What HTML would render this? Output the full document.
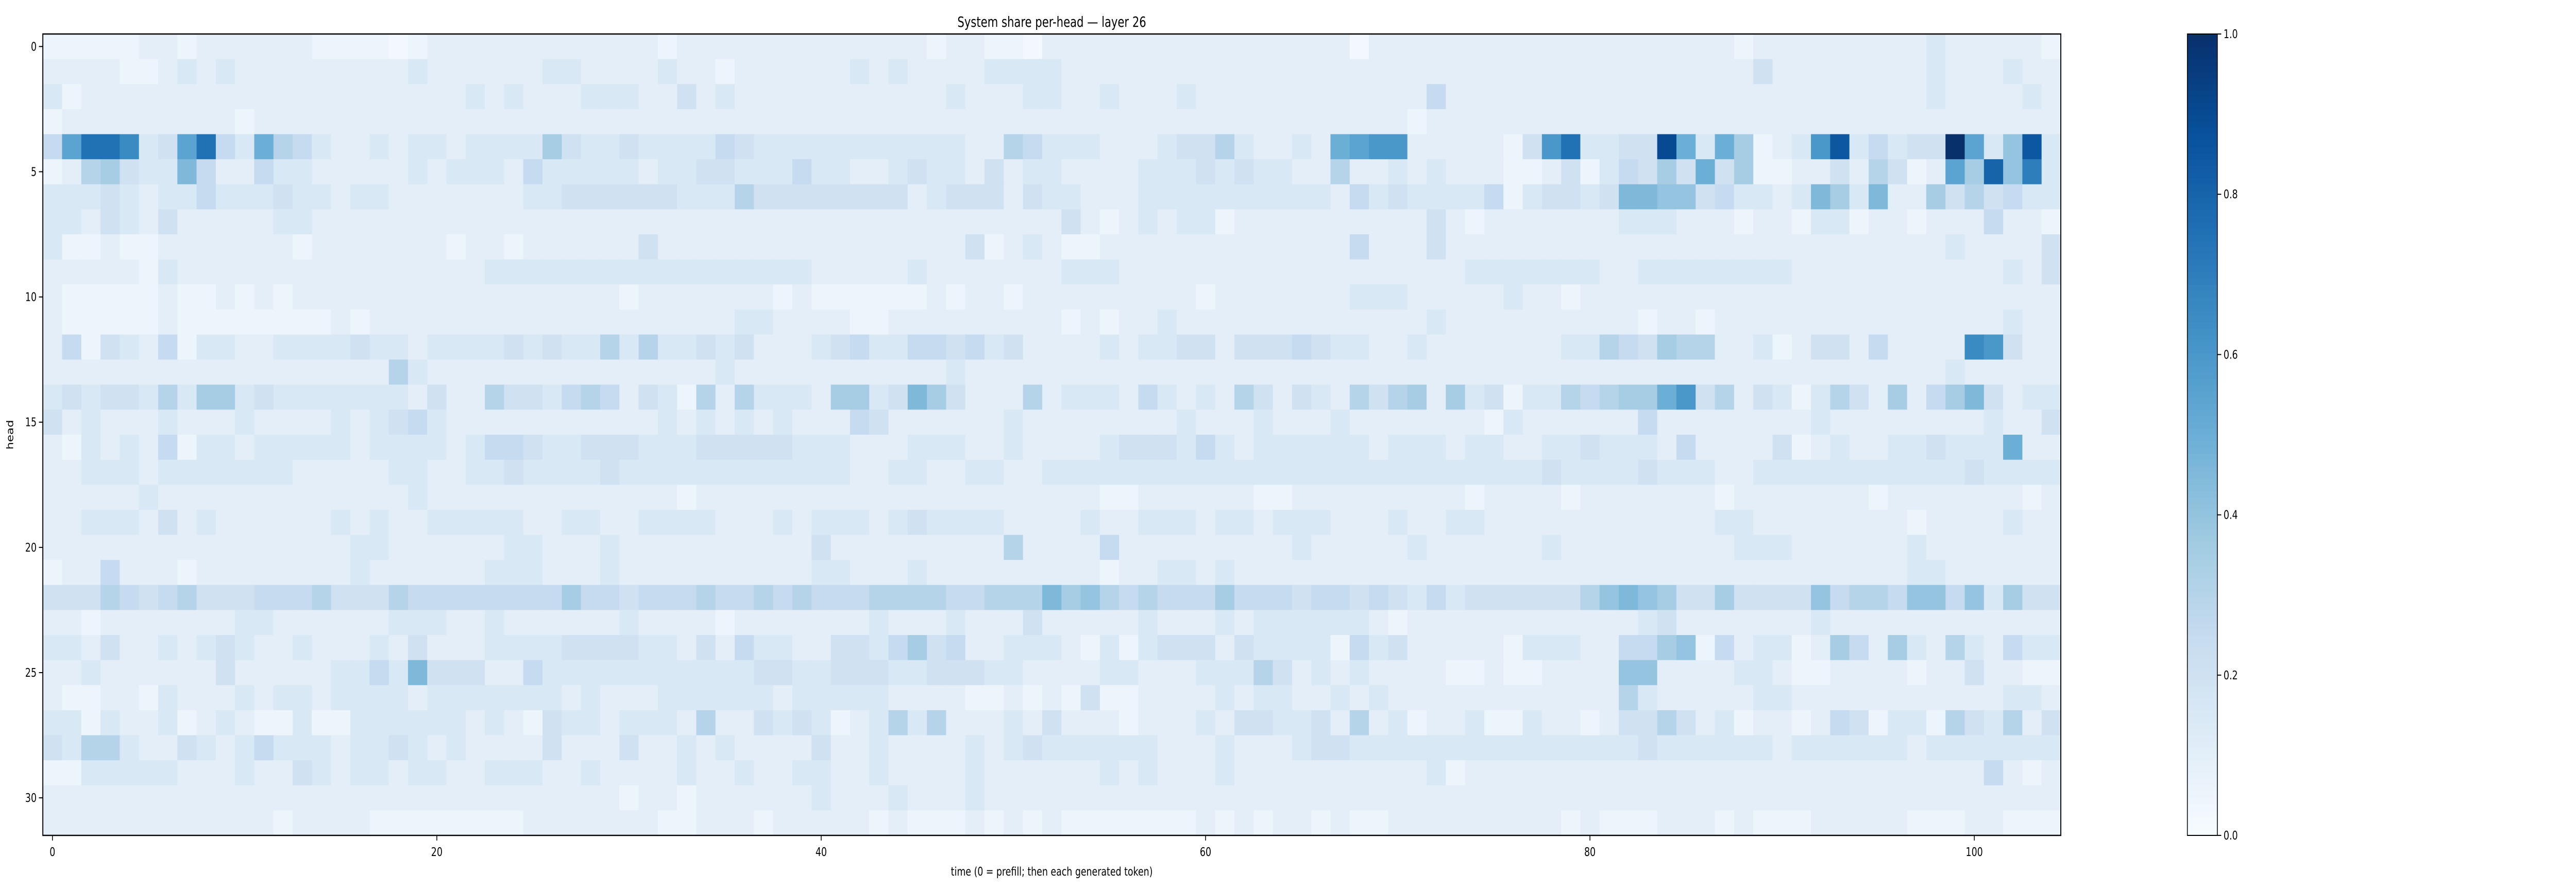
<!DOCTYPE html>
<html><head><meta charset="utf-8"><meta name="viewport" content="width=6615, initial-scale=1"><title>System share per-head — layer 26</title>
<style>html,body{margin:0;padding:0;background:#fff;overflow:hidden;width:100%;height:100%;}svg{position:fixed;left:0;top:0;width:100vw;height:100vh;display:block;font-family:"DejaVu Sans","Liberation Sans",sans-serif;}</style>
</head><body>
<svg id="chart" viewBox="0 0 6615 1728" preserveAspectRatio="none" xmlns="http://www.w3.org/2000/svg">
<rect x="0" y="0" width="6615" height="1728" fill="#fff"/>
<text x="2701" y="52" font-size="28" text-anchor="middle" fill="#000">System share per-head — layer 26</text>
<g id="cells"></g>
<g id="axes"></g>
<g id="cbar"></g>
<text x="2701" y="1700" font-size="23" text-anchor="middle" fill="#000">time (0 = prefill; then each generated token)</text>
<text x="0" y="0" font-size="23" text-anchor="middle" fill="#000" transform="translate(34,844) rotate(-90)">head</text>
</svg>
<script>
const xTicks = [0, 20, 40, 60, 80, 100];
const yTicks = [0, 5, 10, 15, 20, 25, 30];
const cbarTicks = [0.0, 0.2, 0.4, 0.6, 0.8, 1.0];
const cbarTickLabels = ["0.0", "0.2", "0.4", "0.6", "0.8", "1.0"];
const numTimes = 105;
const numHeads = 32;
// system share per head (percent), one array per head row, 105 time steps
const head00 = [5,5,5,5,5,10,10,5,10,10, 10,10,10,10,5,5,5,5,2,5, 10,10,10,10,10,10,10,10,10,10, 10,10,5,10,10,10,10,10,10,10, 10,10,10,10,10,10,5,10,10,5, 5,2,10, 10,10,10,10,10,10,10,10,10,10, 10,10,10,10,10,2,10,10,10,10, 10,10,10,10,10,10,10,10,10,10, 10,10,10,10,10,5,10,10,10,10, 10,10,10,10,10,15,10,10,10,10,10,5];
const head01 = [10,10,10,10,5,5,10,15,10,15, 10,10,10,10,10,10,10,10,10,15, 10,10,10,10,10,10,15,15,10,10, 10,10,15,10,10,5,10,10,10,10, 10,10,15,10,15,10,10,10,10,15, 15,15,15, 10,10,10,10,10,10,10,10,10,10, 10,10,10,10,10,10,10,10,10,10, 10,10,10,10,10,10,10,10,10,10, 10,10,10,10,10,10,20,10,10,10, 10,10,10,10,10,15,10,10,10,15,10,10];
const head02 = [15,5,10,10,10,10,10,10,10,10, 10,10,10,10,10,10,10,10,10,10, 10,10,15,10,15,10,10,10,15,15, 15,10,10,20,10,15,10,10,10,10, 10,10,10,10,10,10,10,15,10,10, 10,15,15, 10,10,15,10,10,10,15,10,10,10, 10,10,10,10,10,10,10,10,10,25, 10,10,10,10,10,10,10,10,10,10, 10,10,10,10,10,10,10,10,10,10, 10,10,10,10,10,15,10,10,10,10,15,10];
const head03 = [5,10,10,10,10,10,10,10,10,10, 5,10,10,10,10,10,10,10,10,10, 10,10,10,10,10,10,10,10,10,10, 10,10,10,10,10,10,10,10,10,10, 10,10,10,10,10,10,10,10,10,10, 10,10,10, 10,10,10,10,10,10,10,10,10,10, 10,10,10,10,10,10,10,10,5,10, 10,10,10,10,10,10,10,10,10,10, 10,10,10,10,10,10,10,10,10,10, 10,10,10,10,10,10,10,10,10,10,10,10];
const head04 = [25,55,75,75,65,15,20,55,75,25, 15,50,30,25,15,10,10,15,10,15, 15,10,15,15,15,15,35,20,15,15, 20,15,15,15,15,25,20,15,15,15, 15,15,15,15,15,15,15,15,10,10, 30,25,15, 15,15,10,10,10,15,20,20,30,15, 10,10,15,10,50,55,60,60,10,10, 10,10,10,5,20,60,75,15,15,20, 20,90,50,15,50,35,5,10,15,60, 85,15,25,15,20,20,100,55,15,40,85,15];
const head05 = [5,10,30,35,20,15,15,45,25,10, 10,25,15,15,10,10,10,10,10,15, 10,15,15,15,10,25,15,15,15,15, 15,10,15,15,20,20,15,15,15,25, 15,15,10,10,15,20,15,15,10,20, 10,15,15, 10,10,10,10,15,15,15,20,15,20, 15,15,10,10,30,10,10,15,10,15, 10,10,10,5,5,10,20,5,15,25, 20,35,20,50,20,35,5,5,10,10, 20,10,30,20,5,10,55,35,80,40,70,15];
const head06 = [15,15,15,20,15,10,15,15,25,15, 15,15,20,15,15,10,15,15,10,10, 10,10,10,10,10,15,15,20,20,20, 20,20,20,15,15,15,30,20,20,20, 20,20,20,20,20,10,15,20,20,20, 10,20,15, 15,10,10,10,15,15,15,15,15,15, 15,15,15,15,10,25,15,20,15,15, 15,15,25,5,15,20,20,15,20,45, 45,40,40,20,25,15,15,10,15,45, 35,15,45,10,10,35,20,30,20,25,15,15];
const head07 = [15,15,10,20,15,10,20,10,10,10, 10,10,15,15,10,10,10,10,10,10, 10,10,10,10,10,10,10,10,10,10, 10,10,10,10,10,10,10,10,10,10, 10,10,10,10,10,10,10,10,10,10, 10,10,10, 20,10,5,10,15,10,15,15,5,10, 10,10,10,10,10,10,10,10,10,20, 10,5,10,10,10,10,10,10,10,15, 15,15,10,10,10,5,10,10,5,15, 15,5,10,10,5,10,10,10,25,10,10,5];
const head08 = [15,5,5,10,5,5,10,10,10,10, 10,10,10,5,10,10,10,10,10,10, 10,5,10,10,5,10,10,10,10,10, 10,20,10,10,10,10,10,10,10,10, 10,10,10,10,10,10,10,10,20,5, 10,15,10, 5,5,10,10,10,10,10,10,10,10, 10,10,10,10,10,25,10,10,10,20, 10,10,10,10,10,10,10,10,10,10, 10,10,10,10,10,10,10,10,10,10, 10,10,10,10,10,10,15,10,10,10,10,20];
const head09 = [10,10,10,10,10,5,15,10,10,10, 10,10,10,10,10,10,10,10,10,10, 10,10,10,15,15,15,15,15,15,15, 15,15,15,15,15,15,15,15,15,15, 10,10,10,10,10,15,10,10,10,10, 10,10,10, 15,15,15,10,10,10,10,10,10,10, 10,10,10,10,10,10,10,10,10,10, 10,15,15,15,15,15,15,15,10,10, 15,15,15,15,15,15,15,15,10,10, 10,10,10,10,10,10,10,10,10,15,10,20];
const head10 = [10,5,5,5,5,5,10,5,5,10, 5,10,5,10,10,10,10,10,10,10, 10,10,10,10,10,10,10,10,10,10, 5,10,10,10,10,10,10,10,5,10, 5,5,5,5,5,5,10,5,10,10, 5,10,10, 10,10,10,10,10,10,10,5,10,10, 10,10,10,10,10,15,15,15,10,10, 10,10,10,15,10,10,5,10,10,10, 10,10,10,10,10,10,10,10,10,10, 10,10,10,10,10,10,10,10,10,10,10,10];
const head11 = [10,5,5,5,5,5,10,5,5,5, 5,5,5,5,5,10,5,10,10,10, 10,10,10,10,10,10,10,10,10,10, 10,10,10,10,10,10,15,15,10,10, 10,10,5,5,10,10,10,10,10,10, 10,10,10, 5,10,5,10,10,15,10,10,10,10, 10,10,10,10,10,10,10,10,10,15, 10,10,10,10,10,10,10,10,10,10, 5,10,10,5,10,10,10,10,10,10, 10,10,10,10,10,10,10,10,10,15,10,10];
const head12 = [10,25,5,20,15,10,25,5,15,15, 10,10,15,15,15,15,20,15,15,10, 15,15,15,15,20,15,20,15,15,30, 15,30,15,15,20,15,20,10,10,10, 15,20,25,15,15,25,25,20,25,15, 20,10,10, 10,10,15,10,15,15,20,20,10,20, 20,20,25,20,15,15,10,10,15,10, 10,10,10,10,10,10,15,15,30,25, 20,35,30,30,10,10,15,5,10,20, 20,10,25,10,10,10,10,65,60,20,10,10];
const head13 = [10,10,10,10,10,10,10,10,10,10, 10,10,10,10,10,10,10,10,30,15, 10,10,10,10,10,10,10,10,10,10, 10,10,10,10,10,15,10,10,10,10, 10,10,10,10,10,10,10,15,10,10, 10,10,10, 10,10,10,10,10,10,10,10,10,10, 10,10,10,10,10,10,10,10,10,10, 10,10,10,10,10,10,10,10,10,10, 10,10,10,10,10,10,10,10,10,10, 10,10,10,10,10,10,15,10,10,10,10,10];
const head14 = [15,20,15,20,20,15,30,15,35,35, 15,20,15,15,15,15,15,15,15,10, 20,10,10,30,20,20,15,25,30,25, 10,20,15,5,30,10,30,15,15,15, 10,35,35,15,20,45,35,20,10,10, 10,30,10, 15,15,15,10,25,15,10,15,10,30, 20,10,20,15,10,30,20,30,35,10, 35,15,20,5,15,15,30,25,30,35, 35,50,60,20,30,10,20,15,5,15, 30,20,10,35,10,25,35,45,20,10,15,15];
const head15 = [20,10,15,10,10,10,15,10,10,10, 15,10,10,10,10,15,10,15,20,25, 15,10,10,10,10,10,10,10,10,10, 10,10,15,10,15,10,15,10,15,10, 10,10,25,20,10,10,10,10,10,10, 15,10,10, 10,10,10,10,10,10,15,10,10,10, 15,10,10,10,15,10,10,10,10,10, 10,10,5,15,10,10,10,10,10,10, 25,10,10,10,10,10,10,10,10,15, 10,10,10,10,10,10,10,10,15,10,10,20];
const head16 = [10,5,15,10,15,10,25,5,15,15, 10,15,15,15,15,15,10,15,15,15, 15,10,15,25,25,20,15,15,20,20, 20,15,15,15,20,20,20,20,20,15, 15,15,10,10,10,15,15,15,10,10, 15,10,10, 10,10,15,20,20,20,15,25,15,10, 15,15,15,15,15,15,10,15,15,15, 10,15,15,10,10,15,15,20,15,15, 15,10,25,10,10,10,10,20,5,10, 15,10,10,15,15,20,15,15,15,50,10,10];
const head17 = [10,10,15,15,15,10,15,15,15,15, 15,15,15,10,10,10,10,10,15,15, 10,10,15,15,20,15,15,15,15,20, 15,15,15,15,15,15,15,15,15,15, 15,15,10,10,15,15,10,10,15,15, 10,10,15, 15,15,15,15,15,15,15,15,15,15, 15,15,15,15,15,15,15,15,15,15, 15,15,15,15,15,20,15,15,15,15, 20,15,15,15,10,10,15,15,15,15, 15,15,15,15,15,15,15,20,15,15,15,15];
const head18 = [10,10,10,10,10,15,10,10,10,10, 10,10,10,10,10,10,10,10,10,15, 10,10,10,10,10,10,10,10,10,10, 10,10,10,5,10,10,10,10,10,10, 10,10,10,10,10,10,10,10,10,10, 10,10,10, 10,10,5,5,10,10,10,10,10,10, 5,5,10,10,10,10,10,10,10,10, 10,5,10,10,10,10,5,10,10,10, 10,10,10,10,5,10,10,10,10,10, 10,10,5,10,10,10,10,10,10,10,5,10];
const head19 = [10,10,15,15,15,10,20,10,15,10, 10,10,10,10,10,15,10,15,10,10, 15,15,15,15,15,10,10,15,15,10, 10,15,15,15,15,10,10,10,15,10, 15,15,15,10,15,20,15,15,15,15, 10,10,10, 10,15,10,10,15,15,15,10,15,15, 10,15,15,15,10,10,10,15,10,10, 15,15,10,10,10,10,10,10,10,10, 10,10,10,10,15,15,10,10,10,10, 10,10,10,10,5,10,10,10,10,15,10,10];
const head20 = [10,10,10,10,10,10,10,10,10,10, 10,10,10,10,10,10,15,15,10,10, 10,10,10,10,15,15,10,10,10,15, 10,10,10,10,10,10,10,10,10,10, 20,10,10,10,10,10,10,10,10,10, 30,10,10, 10,10,25,10,10,10,10,10,10,10, 10,10,15,10,10,10,10,10,15,10, 10,10,10,10,10,15,10,10,10,10, 10,10,10,10,10,15,15,15,10,10, 10,10,10,10,15,10,10,10,10,10,10,10];
const head21 = [5,10,10,25,10,10,10,5,10,10, 10,10,10,10,10,10,15,10,10,10, 10,10,10,15,15,15,10,10,10,15, 10,10,10,10,10,10,10,10,10,10, 15,15,10,10,10,15,10,10,10,10, 10,10,10, 10,10,5,10,10,15,15,10,15,10, 10,10,10,10,10,10,10,10,10,10, 10,10,10,10,10,10,10,10,10,10, 10,10,10,10,10,10,10,10,10,10, 10,10,10,10,15,15,10,10,10,10,10,10];
const head22 = [20,20,20,30,25,20,25,30,20,20, 20,25,25,25,30,20,20,20,30,25, 25,25,25,25,25,25,25,35,25,25, 20,25,25,25,30,25,25,30,25,30, 25,25,25,30,30,30,30,25,25,30, 30,30,45, 35,40,30,25,30,25,25,25,35,25, 25,25,20,25,25,20,25,20,15,25, 15,20,20,20,20,20,20,30,40,45, 40,35,20,20,35,20,20,20,20,40, 25,30,30,25,40,40,25,40,15,35,20,20];
const head23 = [10,10,5,10,10,10,10,10,10,10, 15,15,10,10,10,10,10,10,15,15, 15,10,10,15,10,10,10,10,10,10, 15,10,10,10,10,5,10,10,10,10, 10,10,10,15,10,10,10,15,10,10, 10,20,10, 10,10,10,10,15,10,10,10,15,10, 15,15,15,15,15,15,10,5,10,10, 10,10,10,10,10,10,10,10,10,10, 15,20,10,10,10,10,10,10,10,15, 10,10,10,10,10,10,10,10,10,10,10,10];
const head24 = [15,15,10,20,10,10,15,10,15,20, 15,10,10,15,10,10,10,15,10,20, 10,10,10,15,15,15,15,20,20,20, 20,15,15,10,20,10,25,15,15,10, 10,20,20,15,25,35,20,25,10,10, 15,15,15, 10,5,15,5,15,20,20,20,10,20, 15,15,15,15,5,25,15,20,10,10, 10,10,10,5,15,15,15,10,10,25, 25,35,40,5,25,10,15,15,5,10, 35,25,10,35,15,10,30,15,10,25,15,15];
const head25 = [10,10,15,10,10,10,10,10,10,20, 10,10,10,10,10,15,15,25,15,45, 20,20,20,10,10,25,15,15,15,15, 15,15,15,15,15,15,15,20,20,15, 15,20,20,20,15,15,20,20,20,15, 15,10,10, 10,10,15,15,10,10,10,15,15,15, 30,20,10,15,10,15,10,10,10,10, 5,5,10,5,5,10,10,10,10,40, 40,10,10,10,10,15,15,10,5,5, 10,10,10,10,5,10,10,20,10,10,5,5];
const head26 = [10,5,5,10,10,5,15,10,10,10, 15,10,15,15,10,15,15,15,15,10, 15,15,15,15,15,15,15,10,15,10, 10,10,15,15,15,15,15,15,10,15, 15,15,15,15,10,10,10,10,5,5, 10,5,10, 5,20,5,5,10,10,10,10,15,10, 15,15,10,10,15,10,15,10,10,10, 10,10,10,10,10,10,10,10,10,30, 15,10,10,10,10,10,15,15,10,10, 10,10,10,10,10,10,10,10,10,15,15,10];
const head27 = [15,15,5,15,10,10,15,5,10,15, 10,5,5,15,5,5,15,15,15,15, 15,15,10,15,10,5,20,15,15,10, 15,15,15,10,30,10,10,20,15,20, 15,5,10,15,30,15,30,10,10,10, 15,10,20, 10,10,10,5,10,10,10,15,10,20, 20,15,15,20,10,30,10,15,5,10, 10,15,5,5,15,10,10,5,10,20, 20,30,20,10,15,5,10,10,5,10, 25,20,5,15,15,5,30,20,15,30,10,20];
const head28 = [20,15,30,30,15,10,10,20,15,10, 15,25,15,15,15,10,15,15,20,15, 10,15,10,10,10,10,20,10,10,10, 20,10,10,15,10,15,10,10,10,10, 20,10,10,15,10,10,10,10,15,10, 15,20,15, 15,15,15,15,15,10,10,10,15,10, 10,10,15,20,20,15,15,15,15,15, 15,15,15,15,15,15,15,15,15,15, 20,15,15,15,15,15,15,10,15,15, 15,15,15,15,10,15,15,15,15,15,15,15];
const head29 = [5,5,15,15,15,15,15,10,10,10, 15,10,10,20,15,10,15,15,10,15, 15,10,10,15,15,15,10,10,15,10, 10,10,10,15,10,10,15,10,10,15, 15,10,10,15,10,10,10,10,15,10, 10,10,10, 10,10,15,10,15,10,10,10,15,10, 10,10,10,10,10,10,10,10,10,15, 5,10,10,10,10,10,10,10,10,10, 10,10,10,10,10,10,10,10,10,10, 10,10,10,10,10,10,10,10,25,10,5,10];
const head30 = [10,10,10,10,10,10,10,10,10,10, 10,10,10,10,10,10,10,10,10,10, 10,10,10,10,10,10,10,10,10,10, 5,10,10,5,10,10,10,10,10,10, 15,10,10,10,15,10,10,10,15,10, 10,10,10, 10,10,10,10,10,10,10,10,10,10, 10,10,10,10,10,10,10,10,10,10, 10,10,10,10,10,10,10,10,10,10, 10,10,10,10,10,10,10,10,10,10, 10,10,10,10,10,10,10,10,10,10,10,10];
const head31 = [10,10,10,10,10,10,10,10,10,10, 10,10,5,10,10,10,10,5,5,5, 5,5,5,5,5,10,10,10,10,10, 10,10,5,5,10,10,10,5,10,10, 10,10,10,5,10,5,5,5,10,5, 10,5,10, 5,5,5,5,5,5,5,10,5,10, 5,10,10,5,10,5,5,10,10,10, 10,10,10,10,10,10,5,10,5,5, 5,10,10,10,5,10,5,5,5,10, 10,10,10,10,5,5,5,10,10,5,5,5];
const headRows = [head00,head01,head02,head03,head04,head05,head06,head07,head08,head09,head10,head11,head12,head13,head14,head15,head16,head17,head18,head19,head20,head21,head22,head23,head24,head25,head26,head27,head28,head29,head30,head31];

const NS = "http://www.w3.org/2000/svg";
const PX0 = 110, PX1 = 5292, PY0 = 66, PY1 = 1622;
const cellW = (PX1 - PX0) / numTimes, cellH = (PY1 - PY0) / numHeads;
function xScale(t) { return PX0 + t * cellW; }
function yScale(h) { return PY0 + h * cellH; }
const stops = ["#f7fbff","#deebf7","#c6dbef","#9ecae1","#6baed6","#4292c6","#2171b5","#08519c","#08306b"];
function hex(c){return [parseInt(c.slice(1,3),16),parseInt(c.slice(3,5),16),parseInt(c.slice(5,7),16)];}
function blues(v){
  v = Math.max(0, Math.min(1, v));
  const p = v * 8, i = Math.min(7, Math.floor(p)), f = p - i;
  const a = hex(stops[i]), b = hex(stops[i+1]);
  return "rgb(" + a.map((x,k)=>Math.round(x + (b[k]-x)*f)).join(",") + ")";
}
function mk(tag, attrs, parent){ const e=document.createElementNS(NS,tag); for(const k in attrs) e.setAttribute(k, attrs[k]); parent.appendChild(e); return e; }

const cells = document.getElementById("cells");
for (let h = 0; h < numHeads; h++) {
  const row = headRows[h];
  for (let t = 0; t < numTimes; t++) {
    const v = (t < row.length ? row[t] : 10) / 100;
    const r = mk("rect", {x: xScale(t).toFixed(2), y: yScale(h).toFixed(2), width: (cellW+0.6).toFixed(2), height: (cellH+0.6).toFixed(2), fill: blues(v)}, cells);
    
    
  }
}
const axes = document.getElementById("axes");
const frame = mk("rect", {x: PX0, y: PY0, width: PX1-PX0, height: PY1-PY0, fill: "none", stroke: "#000", "stroke-width": 2.5}, axes);


xTicks.forEach(t => {
  const x = xScale(t + 0.5);
  const l = mk("line", {x1: x, y1: PY1, x2: x, y2: PY1 + 10, stroke: "#000", "stroke-width": 2}, axes);
  
  
  const tx = mk("text", {x: x, y: PY1 + 40, "font-size": 23, "text-anchor": "middle", fill: "#000"}, axes);
  tx.textContent = String(t);
  
  
});
yTicks.forEach(h => {
  const y = yScale(h + 0.5);
  const l = mk("line", {x1: PX0 - 10, y1: y, x2: PX0, y2: y, stroke: "#000", "stroke-width": 2}, axes);
  
  
  const tx = mk("text", {x: PX0 - 16, y: y + 8, "font-size": 23, "text-anchor": "end", fill: "#000"}, axes);
  tx.textContent = String(h);
  
  
});
const cb = document.getElementById("cbar");
const CX0 = 5617, CX1 = 5694;
function cScale(v) { return PY1 - v * (PY1 - PY0); }
const nSteps = 128;
for (let i = 0; i < nSteps; i++) {
  const v0 = i / nSteps, v1 = (i + 1) / nSteps;
  const r = mk("rect", {x: CX0, y: cScale(v1).toFixed(2), width: CX1-CX0, height: (cScale(v0)-cScale(v1)+0.6).toFixed(2), fill: blues((v0+v1)/2)}, cb);
  
  
}
const cbf = mk("rect", {x: CX0, y: PY0, width: CX1-CX0, height: PY1-PY0, fill: "none", stroke: "#000", "stroke-width": 2}, cb);


cbarTicks.forEach((v, i) => {
  const y = cScale(v);
  const l = mk("line", {x1: CX1, y1: y, x2: CX1 + 10, y2: y, stroke: "#000", "stroke-width": 2}, cb);
  
  
  const tx = mk("text", {x: CX1 + 16, y: y + 8, "font-size": 23, "text-anchor": "start", fill: "#000"}, cb);
  tx.textContent = cbarTickLabels[i];
  
  
});
</script>
</body></html>
